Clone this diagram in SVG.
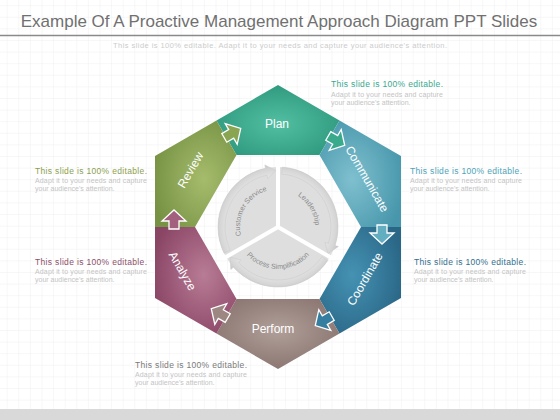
<svg xmlns="http://www.w3.org/2000/svg" width="560" height="420" viewBox="0 0 560 420">
<defs>
<pattern id="grid" x="6.7" y="5.2" width="11.6" height="11.6" patternUnits="userSpaceOnUse">
<path d="M11.6 0 L0 0 0 11.6" fill="none" stroke="#e8e8e8" stroke-width="0.7"/>
</pattern>
<radialGradient id="gPlan" cx="50%" cy="55%" r="65%"><stop offset="0" stop-color="#52bfa2"/><stop offset="1" stop-color="#2a9479"/></radialGradient>
<radialGradient id="gComm" cx="40%" cy="55%" r="65%"><stop offset="0" stop-color="#7fc0cf"/><stop offset="1" stop-color="#4796ab"/></radialGradient>
<radialGradient id="gCoord" cx="40%" cy="45%" r="65%"><stop offset="0" stop-color="#4592b3"/><stop offset="1" stop-color="#2a6686"/></radialGradient>
<radialGradient id="gPerf" cx="50%" cy="45%" r="65%"><stop offset="0" stop-color="#b09f9a"/><stop offset="1" stop-color="#86706b"/></radialGradient>
<radialGradient id="gAnal" cx="60%" cy="45%" r="65%"><stop offset="0" stop-color="#b87c96"/><stop offset="1" stop-color="#8a4565"/></radialGradient>
<radialGradient id="gRev" cx="60%" cy="55%" r="65%"><stop offset="0" stop-color="#a5bc6c"/><stop offset="1" stop-color="#779244"/></radialGradient>
<radialGradient id="gFace" cx="278" cy="227" r="60" gradientUnits="userSpaceOnUse"><stop offset="0" stop-color="#fafafa"/><stop offset="0.7" stop-color="#eeeeee"/><stop offset="1" stop-color="#dedede"/></radialGradient>
<radialGradient id="gBand" cx="0" cy="0" r="63" gradientUnits="userSpaceOnUse"><stop offset="0.8" stop-color="#e4e4e4"/><stop offset="0.92" stop-color="#d6d6d6"/><stop offset="1" stop-color="#c6c6c6"/></radialGradient>
<path id="pCS" d="M245.09,246 A38 38 0 0 1 278,189"/>
<path id="pLD" d="M278,190 A37 37 0 0 1 310.04,245.5"/>
<path id="pPS" d="M241.63,248 A42 42 0 0 0 314.37,248"/>
<polygon id="arrow" points="-2,-5 6,-5 6,-12 17,0 6,12 6,5 -2,5"/>
<g id="sector">
<path d="M0,0 L-51.96,30 A60 60 0 0 1 0,-60 Z" fill="url(#gFace)"/>
<path d="M-53.93,26.30 A60 60 0 0 1 -12.47,-58.69 L-13.20,-62.11 L-1.97,-56.47 L-10.29,-48.42 L-11.02,-51.84 A53 53 0 0 0 -47.64,23.24 Z" fill="url(#gBand)" stroke="#cacaca" stroke-width="0.5"/>
</g>
</defs>
<style>
.seg-label{font-family:"Liberation Sans",Arial,sans-serif;font-size:12px;fill:#ffffff;text-anchor:middle}
.hd{font-family:"Liberation Sans",Arial,sans-serif;font-size:8.5px}
.bd{font-family:"Liberation Sans",Arial,sans-serif;font-size:7px;fill:#c4c4c4}
.hub{font-family:"Liberation Sans",Arial,sans-serif;font-size:7.2px;fill:#8a8a8a}
.conn use{stroke:#ffffff;stroke-width:1.3;stroke-linejoin:miter}
</style>
<rect width="560" height="420" fill="#ffffff"/>
<rect width="560" height="420" fill="url(#grid)"/>
<rect x="0" y="409" width="560" height="11" fill="#d9d9d9"/>
<text x="279" y="27" text-anchor="middle" font-family="Liberation Sans,Arial,sans-serif" font-size="17" fill="#707070">Example Of A Proactive Management Approach Diagram PPT Slides</text>
<line x1="0" y1="35.5" x2="560" y2="35.5" stroke="#8a8a8a" stroke-width="1.5"/>
<text x="280" y="48" text-anchor="middle" font-family="Liberation Sans,Arial,sans-serif" font-size="7.5" fill="#cccccc" textLength="334" lengthAdjust="spacing">This slide is 100% editable. Adapt it to your needs and capture your audience's attention.</text>

<g id="plan">
<polygon points="216.5,120.5 278,85 339.5,120.5 319.5,155.1 236.5,155.1" fill="url(#gPlan)"/>
<text class="seg-label" x="277" y="128">Plan</text>
</g>
<g id="communicate">
<polygon points="339.5,120.5 401,156 401,227 361,227 319.5,155.1" fill="url(#gComm)"/>
<text class="seg-label" transform="translate(367,179) rotate(60)" x="0" y="4">Communicate</text>
</g>
<g id="coordinate">
<polygon points="401,227 401,298 339.5,333.5 319.5,298.9 361,227" fill="url(#gCoord)"/>
<text class="seg-label" transform="translate(365,279) rotate(-60)" x="0" y="4">Coordinate</text>
</g>
<g id="perform">
<polygon points="339.5,333.5 278,369 216.5,333.5 236.5,298.9 319.5,298.9" fill="url(#gPerf)"/>
<text class="seg-label" x="273" y="333">Perform</text>
</g>
<g id="analyze">
<polygon points="216.5,333.5 155,298 155,227 195,227 236.5,298.9" fill="url(#gAnal)"/>
<text class="seg-label" transform="translate(182.5,271) rotate(60)" x="0" y="4">Analyze</text>
</g>
<g id="review">
<polygon points="155,227 155,156 216.5,120.5 236.5,155.1 195,227" fill="url(#gRev)"/>
<text class="seg-label" transform="translate(190.5,170) rotate(-60)" x="0" y="4">Review</text>
</g>

<g id="connectors" class="conn">
<use href="#arrow" transform="translate(226,136.9) rotate(-30)" fill="#8aa552"/>
<use href="#arrow" transform="translate(330,136.9) rotate(30)" fill="#3aaa8c"/>
<use href="#arrow" transform="translate(382,227) rotate(90)" fill="#62adc0"/>
<use href="#arrow" transform="translate(330,317.1) rotate(150)" fill="#357ea0"/>
<use href="#arrow" transform="translate(226,317.1) rotate(210)" fill="#9d8782"/>
<use href="#arrow" transform="translate(174,227) rotate(270)" fill="#a2607e"/>
</g>

<g id="hub">
<use href="#sector" transform="translate(278,227)"/>
<use href="#sector" transform="translate(278,227) rotate(120)"/>
<use href="#sector" transform="translate(278,227) rotate(240)"/>
<g stroke="#ffffff" stroke-width="4" stroke-linecap="butt">
<line x1="278" y1="227" x2="278" y2="163"/>
<line x1="278" y1="227" x2="333.4" y2="259"/>
<line x1="278" y1="227" x2="222.6" y2="259"/>
</g>
<text class="hub"><textPath href="#pCS" startOffset="50%" text-anchor="middle">Customer Service</textPath></text>
<text class="hub"><textPath href="#pLD" startOffset="50%" text-anchor="middle">Leadership</textPath></text>
<text class="hub"><textPath href="#pPS" startOffset="50%" text-anchor="middle">Process Simplification</textPath></text>
</g>

<g id="notes">
<text class="hd" x="331" y="87" fill="#3aa88f" textLength="112" lengthAdjust="spacing">This slide is 100% editable.</text>
<text class="bd" x="331" y="96.5" textLength="112" lengthAdjust="spacing">Adapt it to your needs and capture</text>
<text class="bd" x="331" y="105">your audience's attention.</text>

<text class="hd" x="35" y="173.5" fill="#8c9e50" textLength="112" lengthAdjust="spacing">This slide is 100% editable.</text>
<text class="bd" x="35" y="182.7" textLength="112" lengthAdjust="spacing">Adapt it to your needs and capture</text>
<text class="bd" x="35" y="190.5">your audience's attention.</text>

<text class="hd" x="410" y="173.5" fill="#4ea3b8" textLength="112" lengthAdjust="spacing">This slide is 100% editable.</text>
<text class="bd" x="410" y="182.7" textLength="112" lengthAdjust="spacing">Adapt it to your needs and capture</text>
<text class="bd" x="410" y="190.5">your audience's attention.</text>

<text class="hd" x="35" y="265" fill="#8d4f6a" textLength="112" lengthAdjust="spacing">This slide is 100% editable.</text>
<text class="bd" x="35" y="274.3" textLength="112" lengthAdjust="spacing">Adapt it to your needs and capture</text>
<text class="bd" x="35" y="282">your audience's attention.</text>

<text class="hd" x="414" y="265" fill="#336f8e" textLength="112" lengthAdjust="spacing">This slide is 100% editable.</text>
<text class="bd" x="414" y="274.3" textLength="112" lengthAdjust="spacing">Adapt it to your needs and capture</text>
<text class="bd" x="414" y="282">your audience's attention.</text>

<text class="hd" x="135" y="368" fill="#7a7a7a" textLength="112" lengthAdjust="spacing">This slide is 100% editable.</text>
<text class="bd" x="135" y="377" textLength="112" lengthAdjust="spacing">Adapt it to your needs and capture</text>
<text class="bd" x="135" y="385">your audience's attention.</text>
</g>
</svg>
